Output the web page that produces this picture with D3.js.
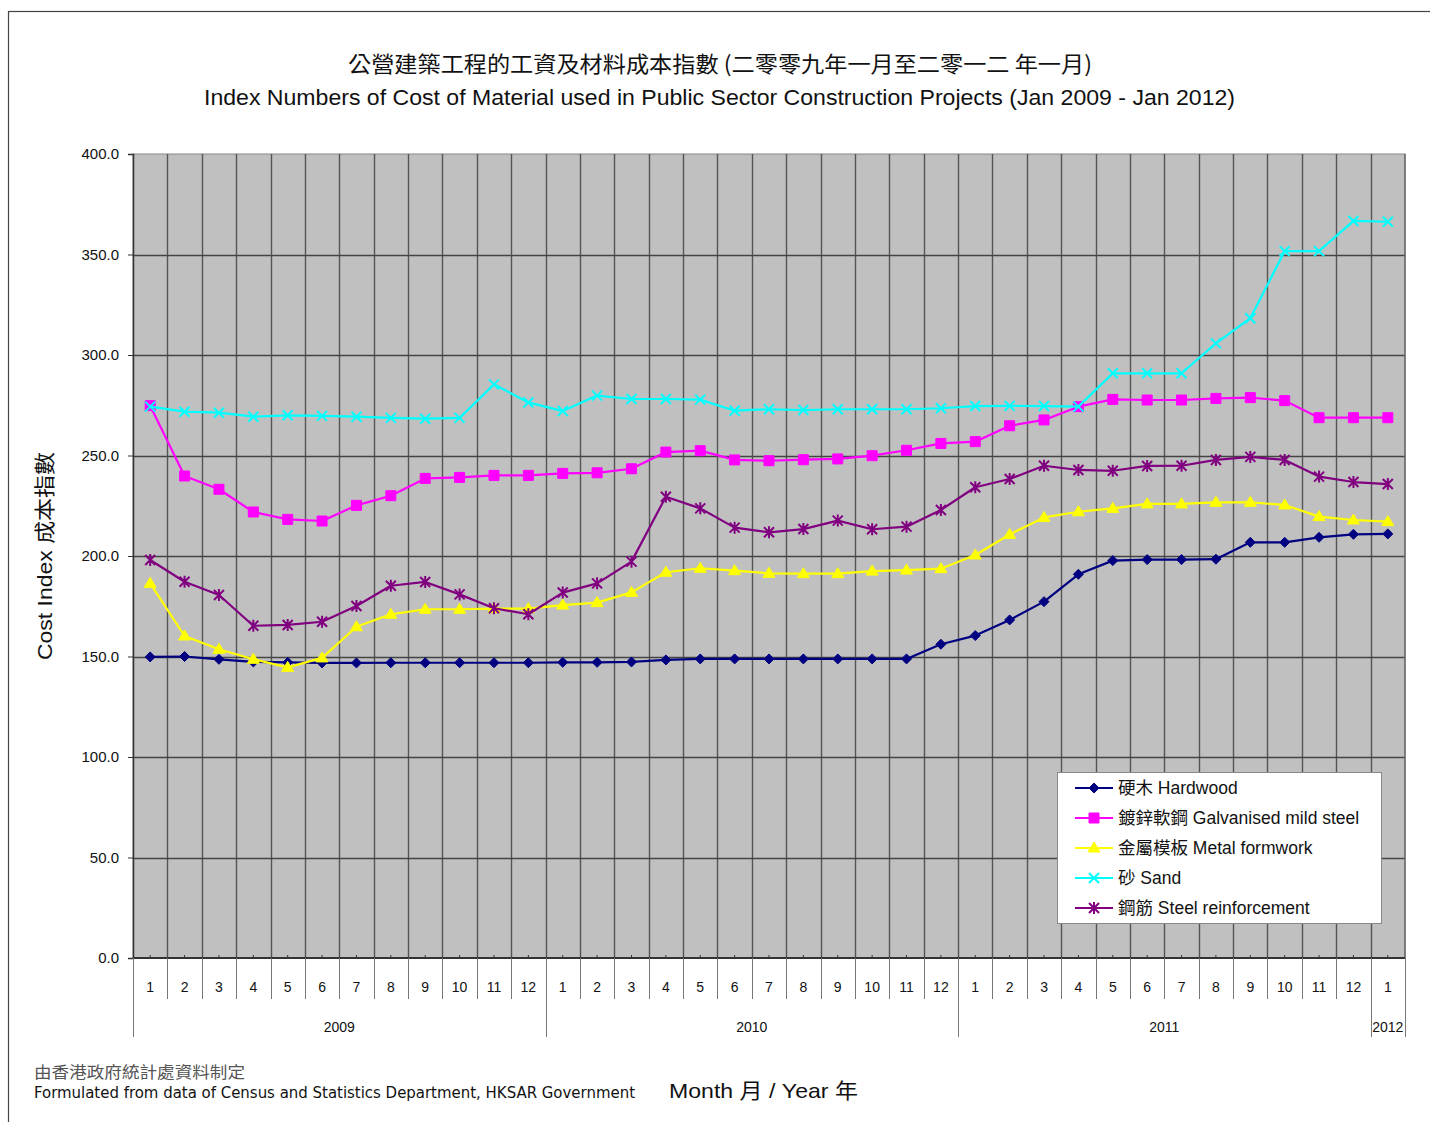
<!DOCTYPE html>
<html>
<head>
<meta charset="utf-8">
<script src="https://cdn.jsdelivr.net/npm/d3@7"></script>
<style>
  body { margin: 0; background: #fff; }
  text { font-family: "Liberation Sans", Arial, "Noto Sans CJK TC", sans-serif; }
</style>
</head>
<body>
<div id="chart"></div>
<script>
// month tick labels, Jan 2009 .. Jan 2012
var months = ['1','2','3','4','5','6','7','8','9','10','11','12',
              '1','2','3','4','5','6','7','8','9','10','11','12',
              '1','2','3','4','5','6','7','8','9','10','11','12',
              '1'];
var years = ['2009', '2010', '2011', '2012'];
var yearSpans = [12, 12, 12, 1];
var yTicks = [0, 50, 100, 150, 200, 250, 300, 350, 400];

var hardwood = [149.8, 150.0, 148.6, 147.3, 147.1, 146.8, 146.8, 146.9, 146.9, 146.9, 146.9, 146.9,
                147.1, 147.1, 147.3, 148.3, 148.8, 148.8, 148.8, 148.8, 148.8, 148.8, 148.8, 156.1,
                160.4, 168.2, 177.3, 190.9, 197.7, 198.2, 198.2, 198.4, 206.8, 206.8, 209.3, 210.8,
                211.0];
var galvanised = [274.8, 239.8, 233.2, 221.9, 218.2, 217.4, 225.2, 230.0, 238.6, 239.1, 240.1, 240.1,
                  241.1, 241.4, 243.4, 251.7, 252.4, 247.8, 247.4, 247.9, 248.3, 249.9, 252.6, 256.0,
                  256.9, 264.8, 267.7, 274.3, 277.9, 277.6, 277.6, 278.4, 278.8, 277.3, 268.8, 268.8,
                  268.8];
var metalFormwork = [186.4, 160.2, 153.6, 148.6, 144.6, 149.3, 164.8, 171.0, 173.5, 173.5, 173.8, 173.8,
                     175.6, 176.8, 181.9, 191.9, 193.9, 192.7, 191.4, 191.2, 191.2, 192.5, 193.0, 193.7,
                     200.5, 210.7, 219.2, 222.0, 223.7, 225.9, 225.9, 226.7, 226.7, 225.4, 219.6, 217.9,
                     217.1];
var sand = [274.3, 271.8, 271.3, 269.3, 270.0, 269.7, 269.3, 268.7, 268.3, 268.7, 285.4, 276.4,
            272.1, 279.8, 278.1, 278.1, 277.8, 272.3, 273.0, 272.6, 273.0, 273.0, 273.0, 273.5,
            274.6, 274.7, 274.6, 274.3, 290.9, 290.9, 290.9, 305.8, 318.3, 351.7, 351.7, 366.7,
            366.3];
var steelReinforcement = [198.0, 187.2, 180.6, 165.3, 165.7, 167.3, 175.1, 185.2, 187.1, 180.9, 174.0, 171.0,
                          181.8, 186.4, 197.2, 229.5, 223.7, 214.1, 211.8, 213.4, 217.6, 213.3, 214.6, 222.9,
                          234.2, 238.3, 244.9, 242.8, 242.4, 244.8, 244.9, 247.8, 249.3, 247.8, 239.5, 236.8,
                          235.8];

var seriesNames = ['硬木 Hardwood', '鍍鋅軟鋼 Galvanised mild steel', '金屬模板 Metal formwork',
                   '砂 Sand', '鋼筋 Steel reinforcement'];
var seriesColors = ['#000080', '#ff00ff', '#ffff00', '#00ffff', '#800080'];
var seriesMarkers = ['diamond', 'square', 'triangle', 'times', 'asterisk'];

var series = [hardwood, galvanised, metalFormwork, sand, steelReinforcement].map(function(v, i) {
  return { name: seriesNames[i], values: v, color: seriesColors[i], marker: seriesMarkers[i] };
});

var W = 1430, H = 1122;
var margins = { left: 133, top: 154 };
var width = 1272, height = 804;

var svg = d3.select('#chart').append('svg')
            .attr('width', W)
            .attr('height', H);

// page frame
svg.append('rect')
   .attr('x', 8.5).attr('y', 11.5)
   .attr('width', W).attr('height', H)
   .attr('fill', 'none')
   .attr('stroke', '#444')
   .attr('stroke-width', 1.2);

// titles
svg.append('text')
   .attr('x', 348).attr('y', 72)
   .attr('font-size', '22px')
   .attr('fill', '#111')
   .attr('textLength', 744)
   .attr('lengthAdjust', 'spacingAndGlyphs')
   .style('font-family', '"Noto Sans CJK TC", "Liberation Sans", sans-serif')
   .text('公營建築工程的工資及材料成本指數 (二零零九年一月至二零一二 年一月)');

svg.append('text')
   .attr('x', 204).attr('y', 105)
   .attr('font-size', '22px')
   .attr('fill', '#111')
   .attr('textLength', 1031)
   .attr('lengthAdjust', 'spacingAndGlyphs')
   .text('Index Numbers of Cost of Material used in Public Sector Construction Projects (Jan 2009 - Jan 2012)');

var x = d3.scaleBand()
          .domain(d3.range(months.length))
          .range([0, width]);
var y = d3.scaleLinear()
          .domain([0, 400])
          .range([height, 0]);

var g = svg.append('g')
           .attr('transform', 'translate(' + margins.left + ',' + margins.top + ')');

// plot area
g.append('rect')
 .attr('width', width).attr('height', height)
 .attr('fill', '#c0c0c0')
 .attr('stroke', '#888')
 .attr('stroke-width', 1);

// vertical gridlines at band edges
g.append('g').attr('class', 'vgrid')
 .selectAll('line')
 .data(d3.range(1, months.length))
 .enter().append('line')
 .attr('x1', function(d) { return Math.round(x(d)) + 0.5; })
 .attr('x2', function(d) { return Math.round(x(d)) + 0.5; })
 .attr('y1', 0).attr('y2', height)
 .attr('stroke', '#555')
 .attr('stroke-width', 1.4);

// horizontal gridlines
g.append('g').attr('class', 'hgrid')
 .selectAll('line')
 .data(yTicks.slice(1, -1))
 .enter().append('line')
 .attr('x1', 0).attr('x2', width)
 .attr('y1', function(d) { return Math.round(y(d)) + 0.5; })
 .attr('y2', function(d) { return Math.round(y(d)) + 0.5; })
 .attr('stroke', '#444')
 .attr('stroke-width', 1.4);

// right edge
g.append('line')
 .attr('x1', width).attr('x2', width)
 .attr('y1', 0).attr('y2', height)
 .attr('stroke', '#666').attr('stroke-width', 1.4);

// y axis
var yAxis = d3.axisLeft(y)
              .tickValues(yTicks)
              .tickSize(5)
              .tickPadding(9)
              .tickFormat(d3.format('.1f'));
var yAxisG = g.append('g').attr('class', 'yaxis').call(yAxis);
yAxisG.select('.domain').attr('stroke', '#333').attr('stroke-width', 1.5);
yAxisG.selectAll('.tick line').attr('stroke', '#333');
yAxisG.selectAll('.tick text')
      .attr('font-size', '15px')
      .attr('fill', '#111')
      .style('font-family', '"Liberation Sans", Arial, sans-serif');

// x axis line with small ticks at band centres
g.append('line')
 .attr('x1', 0).attr('x2', width)
 .attr('y1', height).attr('y2', height)
 .attr('stroke', '#333').attr('stroke-width', 1.8);
g.append('g').selectAll('line')
 .data(d3.range(months.length))
 .enter().append('line')
 .attr('x1', function(d) { return x(d) + x.bandwidth() / 2; })
 .attr('x2', function(d) { return x(d) + x.bandwidth() / 2; })
 .attr('y1', height - 3).attr('y2', height)
 .attr('stroke', '#333');

// month separators under the axis
var monthEdges = d3.range(0, months.length + 1);
g.append('g').selectAll('line')
 .data(monthEdges)
 .enter().append('line')
 .attr('x1', function(d) { return Math.round(d * x.step()) + 0.5; })
 .attr('x2', function(d) { return Math.round(d * x.step()) + 0.5; })
 .attr('y1', height).attr('y2', height + 41)
 .attr('stroke', '#777');

g.append('g').selectAll('text')
 .data(months)
 .enter().append('text')
 .attr('x', function(d, i) { return x(i) + x.bandwidth() / 2; })
 .attr('y', height + 34)
 .attr('text-anchor', 'middle')
 .attr('font-size', '14px')
 .attr('fill', '#111')
 .text(function(d) { return d; });

// year separators and labels
var yearStarts = [0];
yearSpans.forEach(function(s, i) { yearStarts.push(yearStarts[i] + s); });
g.append('g').selectAll('line')
 .data(yearStarts)
 .enter().append('line')
 .attr('x1', function(d) { return Math.round(d * x.step()) + 0.5; })
 .attr('x2', function(d) { return Math.round(d * x.step()) + 0.5; })
 .attr('y1', height).attr('y2', height + 79)
 .attr('stroke', '#777');

g.append('g').selectAll('text')
 .data(years)
 .enter().append('text')
 .attr('x', function(d, i) { return (yearStarts[i] + yearSpans[i] / 2) * x.step(); })
 .attr('y', height + 74)
 .attr('text-anchor', 'middle')
 .attr('font-size', '14px')
 .attr('fill', '#111')
 .text(function(d) { return d; });

// marker shapes
function markerPath(type, s) {
  var h = s / 2;
  if (type === 'diamond') return 'M0,' + (-h) + 'L' + h + ',0L0,' + h + 'L' + (-h) + ',0Z';
  if (type === 'square') return 'M' + (-h) + ',' + (-h) + 'H' + h + 'V' + h + 'H' + (-h) + 'Z';
  if (type === 'triangle') return 'M0,' + (-h - 1) + 'L' + (h + 1) + ',' + (h - 1) + 'L' + (-h - 1) + ',' + (h - 1) + 'Z';
  if (type === 'times') return 'M' + (-h) + ',' + (-h) + 'L' + h + ',' + h + 'M' + h + ',' + (-h) + 'L' + (-h) + ',' + h;
  // asterisk: x plus vertical bar
  return 'M' + (-h) + ',' + (-h) + 'L' + h + ',' + h + 'M' + h + ',' + (-h) + 'L' + (-h) + ',' + h +
         'M0,' + (-h - 1) + 'V' + (h + 1);
}
function isStroke(type) { return type === 'times' || type === 'asterisk'; }
var markerSize = { diamond: 10, square: 10, triangle: 10, times: 10, asterisk: 10 };

var lineFunc = d3.line()
                 .x(function(d, i) { return x(i) + x.bandwidth() / 2; })
                 .y(function(d) { return y(d); });

var seriesG = g.append('g').attr('class', 'series')
               .selectAll('g')
               .data(series)
               .enter().append('g');

seriesG.append('path')
       .attr('d', function(d) { return lineFunc(d.values); })
       .attr('fill', 'none')
       .attr('stroke', function(d) { return d.color; })
       .attr('stroke-width', 2.2)
       .attr('stroke-linejoin', 'round');

seriesG.each(function(s) {
  d3.select(this).selectAll('path.marker')
    .data(s.values)
    .enter().append('path')
    .attr('class', 'marker')
    .attr('transform', function(d, i) {
      return 'translate(' + (x(i) + x.bandwidth() / 2) + ',' + y(d) + ')';
    })
    .attr('d', markerPath(s.marker, markerSize[s.marker]))
    .attr('fill', isStroke(s.marker) ? 'none' : s.color)
    .attr('stroke', s.color)
    .attr('stroke-width', isStroke(s.marker) ? 2 : 1);
});

// legend
var legend = svg.append('g')
                .attr('transform', 'translate(1057,772)');
legend.append('rect')
      .attr('x', 0.5).attr('y', 0.5)
      .attr('width', 324).attr('height', 151)
      .attr('fill', '#fff')
      .attr('stroke', '#888');
var items = legend.selectAll('g.item')
                  .data(series)
                  .enter().append('g')
                  .attr('class', 'item')
                  .attr('transform', function(d, i) { return 'translate(0,' + (16 + i * 30) + ')'; });
items.append('line')
     .attr('x1', 18).attr('x2', 56)
     .attr('stroke', function(d) { return d.color; })
     .attr('stroke-width', 2);
items.append('path')
     .attr('transform', 'translate(37,0)')
     .attr('d', function(d) { return markerPath(d.marker, markerSize[d.marker]); })
     .attr('fill', function(d) { return isStroke(d.marker) ? 'none' : d.color; })
     .attr('stroke', function(d) { return d.color; })
     .attr('stroke-width', function(d) { return isStroke(d.marker) ? 2 : 1; });
items.append('text')
     .attr('x', 61).attr('y', 6)
     .attr('font-size', '17.5px')
     .attr('fill', '#111')
     .text(function(d) { return d.name; });

// y axis title
svg.append('text')
   .attr('transform', 'translate(52,556) rotate(-90)')
   .attr('text-anchor', 'middle')
   .attr('font-size', '21px')
   .attr('fill', '#111')
   .attr('textLength', 208)
   .attr('lengthAdjust', 'spacingAndGlyphs')
   .text('Cost Index 成本指數');

// footnotes
svg.append('text')
   .attr('x', 34).attr('y', 1078)
   .attr('font-size', '16px')
   .attr('fill', '#555')
   .attr('textLength', 211)
   .attr('lengthAdjust', 'spacingAndGlyphs')
   .style('font-family', '"Noto Sans CJK TC", sans-serif')
   .text('由香港政府統計處資料制定');
svg.append('text')
   .attr('x', 34).attr('y', 1098)
   .attr('font-size', '16px')
   .attr('fill', '#111')
   .attr('textLength', 601)
   .attr('lengthAdjust', 'spacingAndGlyphs')
   .style('font-family', '"Liberation Sans Narrow", "DejaVu Sans Condensed", sans-serif')
   .text('Formulated from data of Census and Statistics Department, HKSAR Government');

svg.append('text')
   .attr('x', 669).attr('y', 1098)
   .attr('font-size', '21px')
   .attr('fill', '#111')
   .attr('textLength', 189)
   .attr('lengthAdjust', 'spacingAndGlyphs')
   .text('Month 月 / Year 年');
</script>
</body>
</html>
